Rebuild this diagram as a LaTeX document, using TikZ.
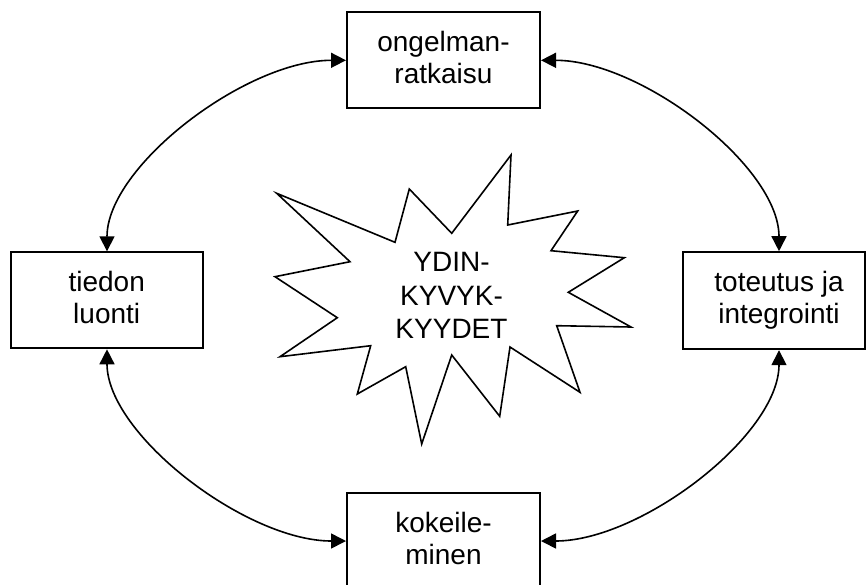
\documentclass[tikz,border=0pt]{standalone}
\usepackage{fontspec}
\setmainfont{Liberation Sans}
\usetikzlibrary{arrows.meta}
\begin{document}
\begin{tikzpicture}[x=1pt,y=-1pt,
  box/.style={draw, line width=2pt, minimum width=193pt, minimum height=96pt, inner sep=0pt},
  lbl/.style={align=center, font=\fontsize{28}{32}\selectfont, inner sep=0pt},
  link/.style={line width=1.6pt, {Triangle[length=15pt,width=15pt]}-{Triangle[length=15pt,width=15pt]}},
  burst/.style={draw, line width=1.6pt, line join=miter}]
\useasboundingbox (0,0) rectangle (866,584);
\clip (0,0) rectangle (866,584);

% the four activity boxes
\node[box] (prob) at (443.5,60.3) {};
\node[box, minimum width=192pt] (know) at (107,300.3) {};
\node[box, minimum width=182pt, minimum height=97pt] (impl) at (774,300.7) {};
\node[box] (exper) at (443.5,541) {};

\node[lbl] (probtxt) at (443.5,57.5) {ongelman-\\ratkaisu};
\node[lbl] (knowtxt) at (106.7,297.5) {tiedon\\luonti};
\node[lbl] (impltxt) at (779,300.2) {toteutus ja\\integrointi};
\node[lbl] (expertxt) at (443.5,538.3) {kokeile-\\minen};

% central starburst
\draw[burst] (276.7,193.3) -- (395,242.3) -- (409.3,189) -- (451.7,233.3)
  -- (511,155) -- (507.7,225) -- (577.7,211) -- (551,250.7)
  -- (624.3,257.7) -- (568.3,292.3) -- (631,327) -- (556.7,325.7)
  -- (580,392.3) -- (510,347) -- (499.7,416.3) -- (451.7,355)
  -- (421.7,444) -- (405.7,366.7) -- (357.3,394) -- (370.7,345.7)
  -- (280,356.7) -- (337.3,317.7) -- (275,276.7) -- (350,261.7) -- cycle;
\node[lbl, font=\fontsize{28}{33.5}\selectfont] (coretxt) at (451.5,295.7) {YDIN-\\KYVYK-\\KYYDET};

% two-way links around the cycle
\draw[link] (prob.west) .. controls +(-100,0) and +(0,-85) .. (know.north);
\draw[link] (prob.east) .. controls +(100,0) and +(0,-85) .. ([xshift=5pt]impl.north);
\draw[link] (know.south) .. controls +(0,85) and +(-100,0) .. (exper.west);
\draw[link] ([xshift=5pt]impl.south) .. controls +(0,85) and +(100,0) .. (exper.east);
\end{tikzpicture}
\end{document}
